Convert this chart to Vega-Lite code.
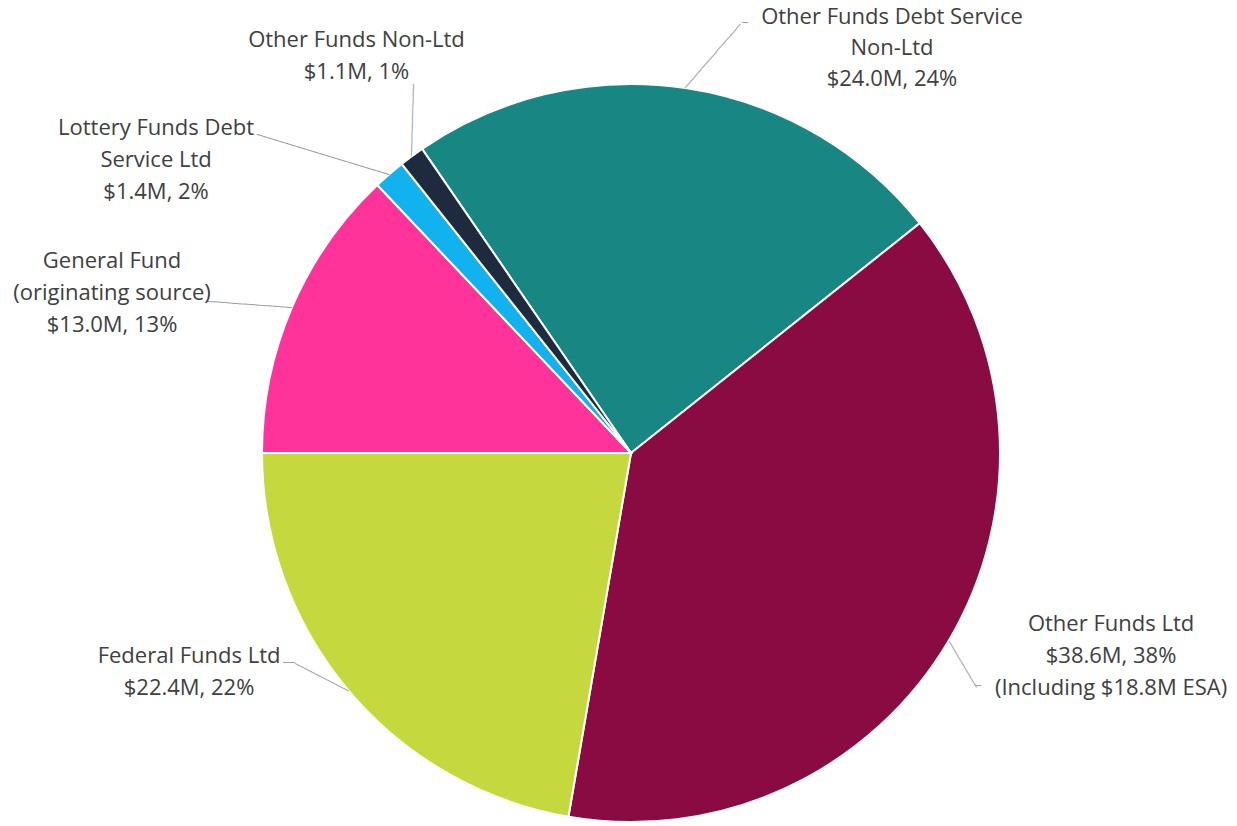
{
  "$schema": "https://vega.github.io/schema/vega-lite/v6.json",
  "width": 1212,
  "height": 746,
  "autosize": {"type": "none"},
  "padding": {"left": 25, "top": 80, "right": 0, "bottom": 0},
  "background": "white",
  "config": {"view": {"stroke": null}},
  "data": {
    "values": [
      {"order": 1, "name": "Other Funds Debt Service Non-Ltd", "value": 24.0, "label": "Other Funds Debt Service\nNon-Ltd\n$24.0M, 24%"},
      {"order": 2, "name": "Other Funds Ltd", "value": 38.6, "label": "Other Funds Ltd\n$38.6M, 38%\n(Including $18.8M ESA)"},
      {"order": 3, "name": "Federal Funds Ltd", "value": 22.4, "label": "Federal Funds Ltd\n$22.4M, 22%"},
      {"order": 4, "name": "General Fund (originating source)", "value": 13.0, "label": "General Fund\n(originating source)\n$13.0M, 13%"},
      {"order": 5, "name": "Lottery Funds Debt Service Ltd", "value": 1.4, "label": "Lottery Funds Debt\nService Ltd\n$1.4M, 2%"},
      {"order": 6, "name": "Other Funds Non-Ltd", "value": 1.1, "label": "Other Funds Non-Ltd\n$1.1M, 1%"}
    ]
  },
  "encoding": {
    "theta": {"field": "value", "type": "quantitative", "stack": true, "scale": {"range": [-0.6018, 5.6814]}},
    "order": {"field": "order", "type": "quantitative"},
    "detail": {"field": "name", "type": "nominal"}
  },
  "layer": [
    {
      "mark": {"type": "arc", "outerRadius": 369, "stroke": "white", "strokeWidth": 2},
      "encoding": {
        "color": {
          "field": "name",
          "type": "nominal",
          "legend": null,
          "scale": {
            "domain": ["Other Funds Debt Service Non-Ltd", "Other Funds Ltd", "Federal Funds Ltd", "General Fund (originating source)", "Lottery Funds Debt Service Ltd", "Other Funds Non-Ltd"],
            "range": ["#188784", "#8A0A42", "#C5D93F", "#FF3399", "#12B2EE", "#1E2B3E"]
          }
        }
      }
    },
    {"mark": {"type": "text", "radius": 369, "angle": 310.9, "align": "left", "baseline": "middle", "font": "DejaVu Sans Mono", "fontSize": 10, "fill": "#999999"},
     "encoding": {"text": {"condition": {"test": "datum.order === 1", "value": "──────────────"}, "value": ""}}},
    {"mark": {"type": "text", "radius": 369, "dx": 56.4, "dy": -65.1, "align": "left", "baseline": "middle", "font": "DejaVu Sans Mono", "fontSize": 10, "fill": "#999999"},
     "encoding": {"text": {"condition": {"test": "datum.order === 1", "value": "─"}, "value": ""}}},
    {"mark": {"type": "text", "radius": 369, "angle": 59.5, "align": "left", "baseline": "middle", "font": "DejaVu Sans Mono", "fontSize": 10, "fill": "#999999"},
     "encoding": {"text": {"condition": {"test": "datum.order === 2", "value": "─────────"}, "value": ""}}},
    {"mark": {"type": "text", "radius": 369, "dx": 26.5, "dy": 45, "align": "left", "baseline": "middle", "font": "DejaVu Sans Mono", "fontSize": 10, "fill": "#999999"},
     "encoding": {"text": {"condition": {"test": "datum.order === 2", "value": "─"}, "value": ""}}},
    {"mark": {"type": "text", "radius": 369, "angle": 207.3, "align": "left", "baseline": "middle", "font": "DejaVu Sans Mono", "fontSize": 10, "fill": "#999999"},
     "encoding": {"text": {"condition": {"test": "datum.order === 3", "value": "──────────"}, "value": ""}}},
    {"mark": {"type": "text", "radius": 369, "dx": -53.8, "dy": -27.8, "align": "right", "baseline": "middle", "font": "DejaVu Sans Mono", "fontSize": 10, "fill": "#999999"},
     "encoding": {"text": {"condition": {"test": "datum.order === 3", "value": "──"}, "value": ""}}},
    {"mark": {"type": "text", "radius": 369, "angle": 184.2, "align": "left", "baseline": "middle", "font": "DejaVu Sans Mono", "fontSize": 10, "fill": "#999999"},
     "encoding": {"text": {"condition": {"test": "datum.order === 4", "value": "──────────────"}, "value": ""}}},
    {"mark": {"type": "text", "radius": 369, "angle": 196.95, "align": "left", "baseline": "middle", "font": "DejaVu Sans Mono", "fontSize": 10, "fill": "#999999"},
     "encoding": {"text": {"condition": {"test": "datum.order === 5", "value": "───────────────────────"}, "value": ""}}},
    {"mark": {"type": "text", "radius": 369, "angle": 271.7, "align": "left", "baseline": "middle", "font": "DejaVu Sans Mono", "fontSize": 10, "fill": "#999999"},
     "encoding": {"text": {"condition": {"test": "datum.order === 6", "value": "────────────"}, "value": ""}}},
    {"mark": {"type": "text", "radius": 369, "dx": 206.4, "dy": -71.1, "align": "center", "baseline": "middle", "font": "Open Sans", "fontSize": 22, "lineHeight": 31, "fill": "#404040", "lineBreak": "\n"},
     "encoding": {"text": {"condition": {"test": "datum.order === 1", "field": "label"}, "value": ""}}},
    {"mark": {"type": "text", "radius": 369, "dx": 162.5, "dy": -17, "align": "center", "baseline": "middle", "font": "Open Sans", "fontSize": 22, "lineHeight": 32, "fill": "#404040", "lineBreak": "\n"},
     "encoding": {"text": {"condition": {"test": "datum.order === 2", "field": "label"}, "value": ""}}},
    {"mark": {"type": "text", "radius": 369, "dx": -159.8, "dy": -34.8, "align": "center", "baseline": "middle", "font": "Open Sans", "fontSize": 22, "lineHeight": 32, "fill": "#404040", "lineBreak": "\n"},
     "encoding": {"text": {"condition": {"test": "datum.order === 3", "field": "label"}, "value": ""}}},
    {"mark": {"type": "text", "radius": 369, "dx": -180, "dy": -46.2, "align": "center", "baseline": "middle", "font": "Open Sans", "fontSize": 22, "lineHeight": 32, "fill": "#404040", "lineBreak": "\n"},
     "encoding": {"text": {"condition": {"test": "datum.order === 4", "field": "label"}, "value": ""}}},
    {"mark": {"type": "text", "radius": 369, "dx": -233.2, "dy": -46.3, "align": "center", "baseline": "middle", "font": "Open Sans", "fontSize": 22, "lineHeight": 32, "fill": "#404040", "lineBreak": "\n"},
     "encoding": {"text": {"condition": {"test": "datum.order === 5", "field": "label"}, "value": ""}}},
    {"mark": {"type": "text", "radius": 369, "dx": -55.3, "dy": -116.2, "align": "center", "baseline": "middle", "font": "Open Sans", "fontSize": 22, "lineHeight": 32, "fill": "#404040", "lineBreak": "\n"},
     "encoding": {"text": {"condition": {"test": "datum.order === 6", "field": "label"}, "value": ""}}}
  ]
}
